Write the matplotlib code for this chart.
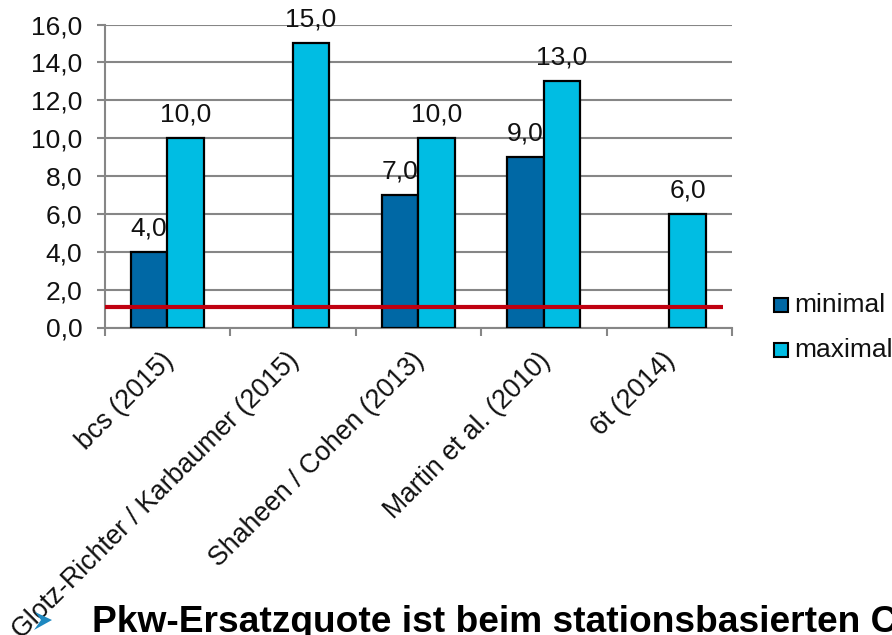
import matplotlib
matplotlib.use("Agg")
import matplotlib.pyplot as plt
import numpy as np
from matplotlib.patches import Polygon

plt.rcParams['font.family'] = ['Liberation Sans', 'DejaVu Sans']

studies = ["bcs (2015)", "Glotz-Richter / Karbaumer (2015)", "Shaheen / Cohen (2013)",
           "Martin et al. (2010)", "6t (2014)"]
minimal = [4.0, None, 7.0, 9.0, None]
maximal = [10.0, 15.0, 10.0, 13.0, 6.0]
y_ticks = [0, 2, 4, 6, 8, 10, 12, 14, 16]
threshold = 1.08
title = "Pkw-Ersatzquote ist beim stationsbasierten C"

W, H = 892, 635
fs = 19
fig = plt.figure(figsize=(W / 100, H / 100), dpi=100)
ax = fig.add_axes([104.5 / W, 1 - 327.5 / H, 627.5 / W, 303 / H])

grey = '#868686'
bar_w = 0.29
x = np.arange(len(studies))

for i in x:
    if minimal[i] is not None:
        ax.bar(i - bar_w / 2, minimal[i], bar_w, color='#0068A5', edgecolor='black', linewidth=1.6, zorder=3)
        ax.text(i - bar_w / 2, minimal[i] + 0.62, f"{minimal[i]:.1f}".replace('.', ','),
                ha='center', va='bottom', fontsize=fs, color='#111111', zorder=5)
    ax.bar(i + bar_w / 2, maximal[i], bar_w, color='#00BDE3', edgecolor='black', linewidth=1.6, zorder=3)
    ax.text(i + bar_w / 2, maximal[i] + 0.62, f"{maximal[i]:.1f}".replace('.', ','),
            ha='center', va='bottom', fontsize=fs, color='#111111', zorder=5, clip_on=False)

ax.plot([-0.5, 4.43], [threshold, threshold], color='#C00010', linewidth=3, zorder=4,
        solid_capstyle='butt', clip_on=False)

ax.set_xlim(-0.5, 4.5)
ax.set_ylim(0, 16)
ax.set_yticks(y_ticks)
ax.set_yticklabels([f"{v:.1f}".replace('.', ',') for v in y_ticks], fontsize=fs, color='#111111')
ax.yaxis.grid(True, color=grey, linewidth=1.5, zorder=0)
ax.set_axisbelow(True)

ax.set_xticks(np.arange(-0.5, 5, 1))
ax.set_xticklabels([])
ax.tick_params(axis='both', color=grey, width=1.5, length=6, direction='out')
ax.tick_params(axis='y', pad=10)
for s in ['top', 'right']:
    ax.spines[s].set_visible(False)
for s in ['left', 'bottom']:
    ax.spines[s].set_color(grey)
    ax.spines[s].set_linewidth(1.5)

for i, name in enumerate(studies):
    ax.annotate(name, xy=(i, 0), xytext=(-5, -14.5), textcoords='offset points', rotation=45,
                rotation_mode='anchor', ha='right', va='top', fontsize=19.2, color='#111111',
                annotation_clip=False)

# legend is placed by hand, the pptx export leaves it off to the side
for yy, col, lab in [(305, '#0068A5', 'minimal'), (350, '#00BDE3', 'maximal')]:
    fig.patches.append(plt.Rectangle((774 / W, 1 - (yy + 7) / H), 14 / W, 14 / H, transform=fig.transFigure,
                                     facecolor=col, edgecolor='black', linewidth=1.5))
    fig.text(794 / W, 1 - yy / H, lab, fontsize=fs, va='center', ha='left', color='#111111')

arrow = Polygon([(34 / W, 1 - 630 / H), (52 / W, 1 - 620 / H), (35 / W, 1 - 612 / H), (41 / W, 1 - 620 / H)],
                closed=True, transform=fig.transFigure, facecolor='#1E88C0', edgecolor='none', zorder=5)
fig.patches.append(arrow)

fig.text(92 / W, 1 - 632 / H, title, fontsize=26.75, fontweight='bold', ha='left', va='baseline', color='black')

fig.savefig("out.png", dpi=100)
